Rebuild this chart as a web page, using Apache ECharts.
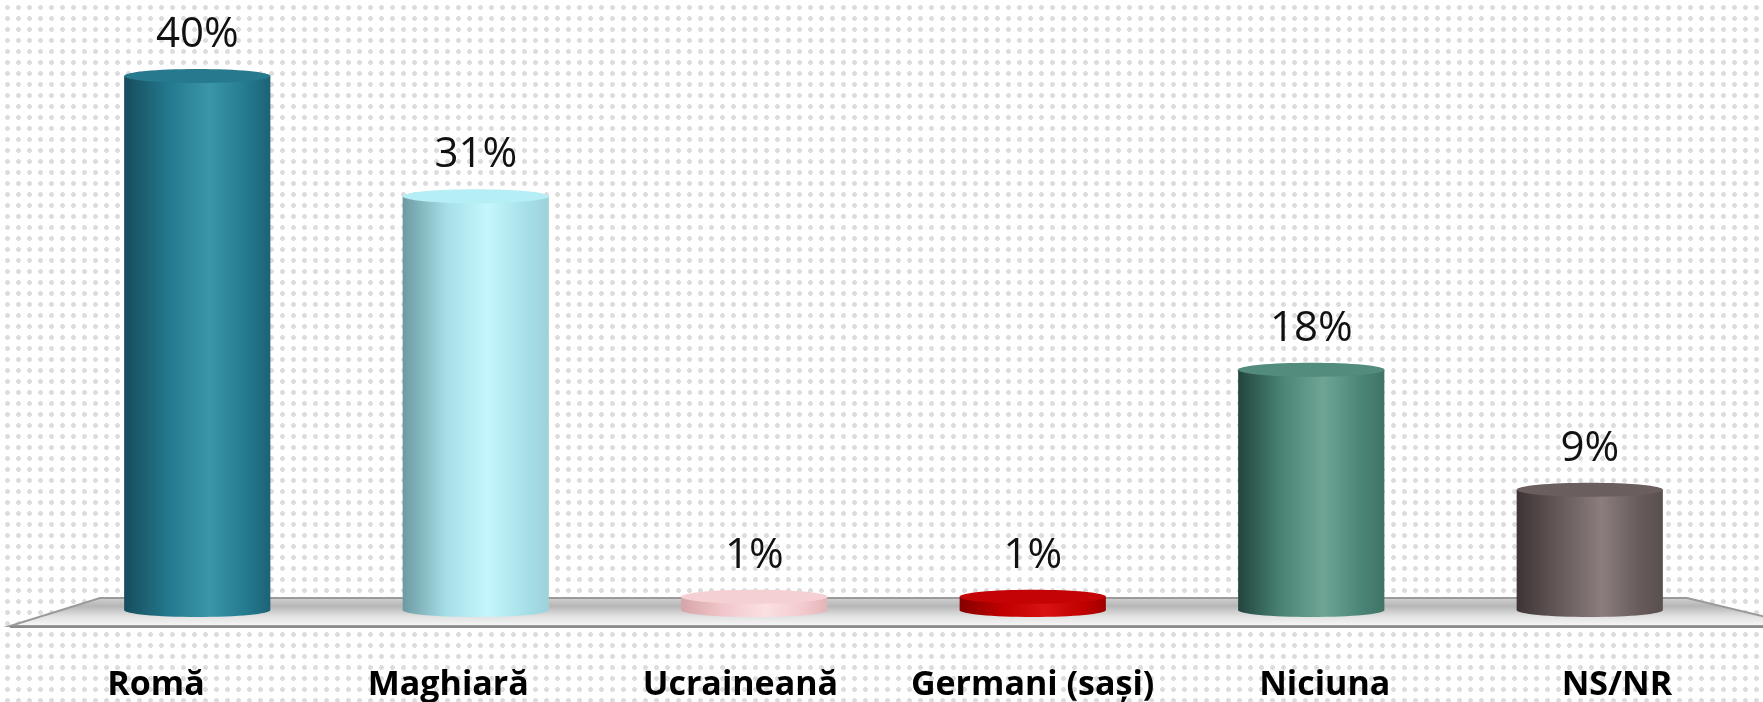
<!DOCTYPE html>
<html>
<head>
<meta charset="utf-8">
<script src="https://cdn.jsdelivr.net/npm/echarts@6/dist/echarts.min.js"></script>
<style>
  html, body { margin: 0; padding: 0; }
  body {
    background-color: #fff;
    background-image: radial-gradient(#dcdcdc 2.1px, transparent 2.7px);
    background-size: 11px 11px;
    background-position: 2px 2px;
  }
  #chart { width: 1763px; height: 702px; }
</style>
</head>
<body>
<div id="chart"></div>
<script>
const categories = ["Romă", "Maghiară", "Ucraineană", "Germani (sași)", "Niciuna", "NS/NR"]
const values = [40, 31, 1, 1, 18, 9]

// body gradient: left edge, mid, highlight, right edge, then top face colour
const palettes = [
  ["#164d5c", "#23788d", "#3a96a9", "#1c6376", "#27798d"],
  ["#6c9aa2", "#a6dfe8", "#c4f7fd", "#9ed2db", "#b6eef6"],
  ["#d6a4a8", "#f2c8cc", "#fbe0e2", "#e2b4b8", "#f5d0d3"],
  ["#860000", "#c00000", "#d81212", "#a00000", "#c40404"],
  ["#23453e", "#4a8476", "#6ea595", "#3f7466", "#538b7d"],
  ["#3e3435", "#665a5a", "#8b7d7d", "#5a4f4f", "#6a5e5e"]
]

const gridTop = 76, gridBottom = 92
const W = 1763, H = 702
const baseY = H - gridBottom

const chart = echarts.init(document.getElementById("chart"))

function renderItem(params, api) {
  const i = api.value(0)
  const v = api.value(1)
  const top = api.coord([i, v])
  const base = api.coord([i, 0])
  const w = api.size([1, 0])[0] * 0.525
  const ry = 7
  const p = palettes[i]
  const body = new echarts.graphic.LinearGradient(0, 0, 1, 0, [
    { offset: 0, color: p[0] },
    { offset: 0.3, color: p[1] },
    { offset: 0.58, color: p[2] },
    { offset: 0.85, color: p[1] },
    { offset: 1, color: p[3] }
  ])
  return {
    type: "group",
    children: [
      { type: "ellipse", shape: { cx: top[0], cy: base[1], rx: w / 2, ry: ry }, style: { fill: body } },
      { type: "rect", shape: { x: top[0] - w / 2, y: top[1], width: w, height: base[1] - top[1] }, style: { fill: body } },
      { type: "ellipse", shape: { cx: top[0], cy: top[1], rx: w / 2, ry: ry }, style: { fill: p[4] } },
      {
        type: "text",
        style: {
          text: v + "%", x: top[0], y: top[1] - 41,
          align: "center", verticalAlign: "middle",
          font: '42px "Open Sans"', fill: "#111"
        }
      }
    ]
  }
}

const option = {
  backgroundColor: "transparent",
  animation: false,
  // grid 0 holds the cylinders, grid 1 is the wider front edge where the labels sit
  grid: [
    { left: 58, right: 34, top: gridTop, bottom: gridBottom },
    { left: 10, right: -12, top: gridTop, bottom: gridBottom }
  ],
  xAxis: [
    {
      type: "category", gridIndex: 0, data: categories,
      axisLine: { show: false }, axisTick: { show: false }, axisLabel: { show: false }
    },
    {
      type: "category", gridIndex: 1, data: categories,
      axisLine: { show: false }, axisTick: { show: false },
      axisLabel: {
        interval: 0, margin: 58,
        color: "#000", fontFamily: "Open Sans", fontWeight: "bold", fontSize: 34
      }
    }
  ],
  yAxis: [
    { type: "value", gridIndex: 0, min: 0, max: 40, show: false },
    { type: "value", gridIndex: 1, min: 0, max: 40, show: false }
  ],
  graphic: [
    {
      type: "polygon",
      z: 0,
      shape: { points: [[100, baseY - 12], [W - 76, baseY - 12], [W + 40, baseY + 16], [10, baseY + 16]] },
      style: {
        fill: new echarts.graphic.LinearGradient(0, 0, 0, 1, [
          { offset: 0, color: "#d4d4d4" },
          { offset: 0.3, color: "#b6b6b6" },
          { offset: 0.65, color: "#e2e2e2" },
          { offset: 1, color: "#f8f8f8" }
        ]),
        stroke: "#9a9a9a", lineWidth: 2
      }
    },
    {
      type: "line", z: 0,
      shape: { x1: 10, y1: baseY + 17, x2: W, y2: baseY + 17 },
      style: { stroke: "#8a8a8a", lineWidth: 2 }
    }
  ],
  series: [{
    type: "custom",
    xAxisIndex: 0, yAxisIndex: 0,
    z: 5,
    renderItem: renderItem,
    data: values.map((v, i) => [i, v])
  }]
}

chart.setOption(option)
</script>
</body>
</html>
